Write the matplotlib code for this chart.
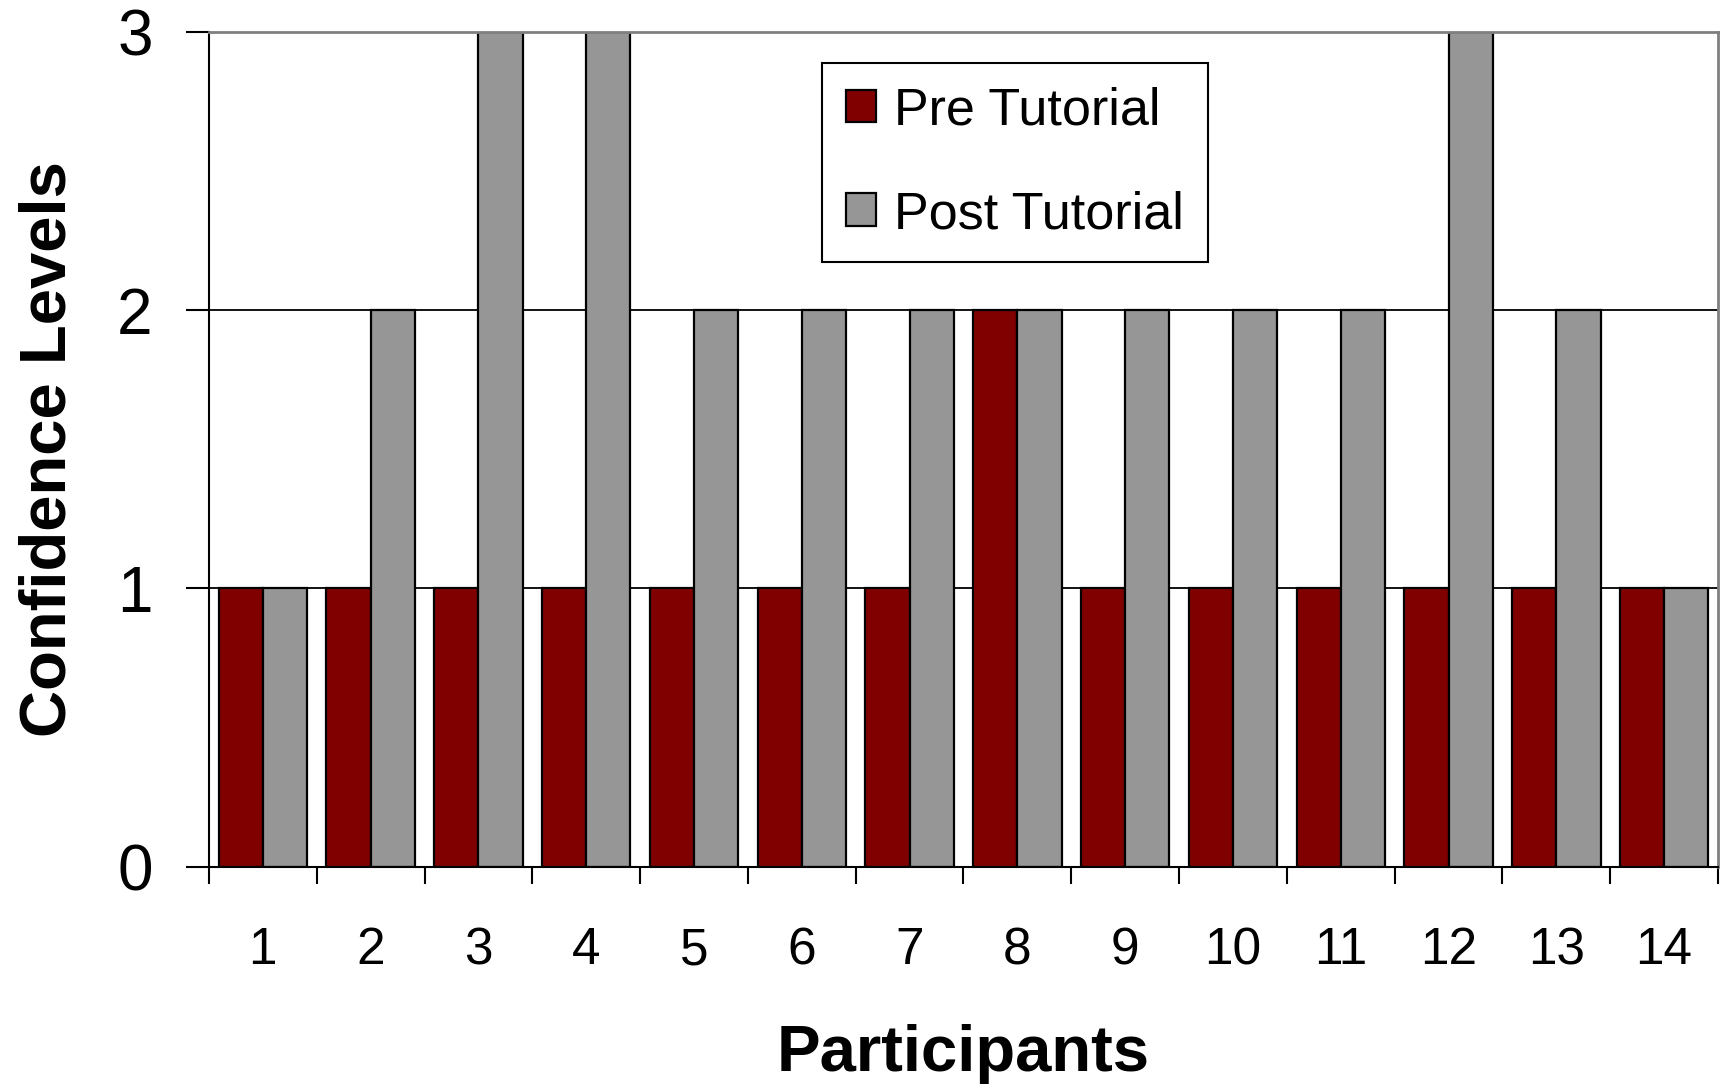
import matplotlib
matplotlib.use('Agg')
import matplotlib.pyplot as plt
import numpy as np

plt.rcParams['font.family'] = ['Liberation Sans', 'DejaVu Sans']

# Confidence levels per participant
participants = ['1', '2', '3', '4', '5', '6', '7', '8', '9', '10', '11', '12', '13', '14']
pre_tutorial = [1, 1, 1, 1, 1, 1, 1, 2, 1, 1, 1, 1, 1, 1]
post_tutorial = [1, 2, 3, 3, 2, 2, 2, 2, 2, 2, 2, 3, 2, 1]

x = np.arange(len(participants))
w = 0.41

fig = plt.figure(figsize=(17.27, 10.85), dpi=100)
ax = fig.add_axes([0.121, 0.2012, 0.8738, 0.7693])

# gridlines behind the bars
for lvl in [1, 2]:
    ax.axhline(lvl, color='black', lw=1.3, zorder=1)

ax.bar(x - w / 2, pre_tutorial, w, color='#800000', edgecolor='black', lw=1.6,
       label='Pre Tutorial', zorder=2)
ax.bar(x + w / 2, post_tutorial, w, color='#969696', edgecolor='black', lw=1.6,
       label='Post Tutorial', zorder=2)

ax.set_xlim(-0.5, len(participants) - 0.5)
ax.set_ylim(0, 3)

# labels sit under the groups, tick marks between them
ax.set_xticks(x)
ax.set_xticklabels(participants, fontsize=37)
ax.tick_params(axis='x', which='major', length=0, pad=43)
ax.set_xticks(np.arange(-0.5, len(participants)), minor=True)
ax.tick_params(axis='x', which='minor', length=12, width=1.5, direction='out')

ax.set_yticks([0, 1, 2, 3])
ax.tick_params(axis='y', labelsize=46, length=16.5, width=1.5, pad=24)

for side in ['left', 'bottom']:
    ax.spines[side].set_color('black')
    ax.spines[side].set_linewidth(1.5)
for side in ['top', 'right']:
    ax.spines[side].set_color('#808080')
    ax.spines[side].set_linewidth(2)

ax.set_xlabel('Participants', fontsize=47, fontweight='bold', labelpad=35)
ax.set_ylabel('Confidence Levels', fontsize=47, fontweight='bold', labelpad=28)

leg = ax.legend(loc='upper left', bbox_to_anchor=(0.4065, 0.963), fontsize=37.5,
                frameon=True, fancybox=False, edgecolor='black', framealpha=1,
                handlelength=0.58, handleheight=0.58, handletextpad=0.35,
                labelspacing=1.05, borderpad=0.45, borderaxespad=0)
leg.get_frame().set_linewidth(1.5)

fig.savefig('out.png', dpi=100)
